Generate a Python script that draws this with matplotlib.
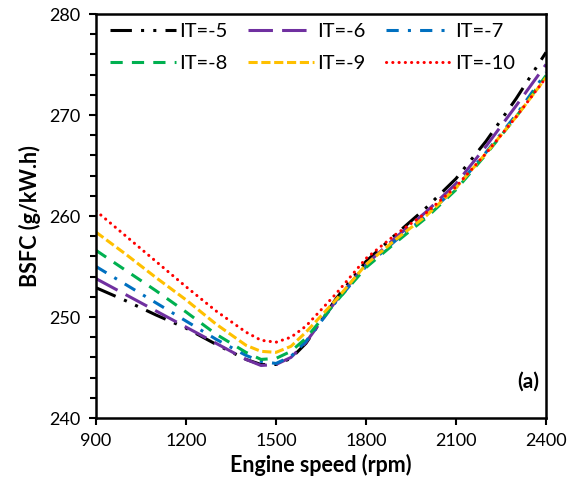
import matplotlib
matplotlib.use("Agg")
import matplotlib.pyplot as plt
from matplotlib.ticker import MultipleLocator

# ---- data ----
speed = [900, 1000, 1100, 1200, 1300, 1400, 1450, 1500, 1550, 1600, 1700, 1800, 1900, 2000, 2100, 2200, 2300, 2400]

it_m5  = [252.9, 251.6, 250.2, 248.9, 247.3, 245.8, 245.3, 245.3, 245.9, 247.4, 251.8, 255.5, 258.2, 260.8, 263.7, 267.4, 271.6, 276.2]
it_m6  = [253.8, 252.2, 250.6, 249.0, 247.4, 245.8, 245.2, 245.3, 246.0, 247.5, 251.6, 255.2, 257.9, 260.4, 263.2, 266.9, 270.9, 275.0]
it_m7  = [255.0, 253.2, 251.4, 249.6, 247.8, 246.2, 245.6, 245.4, 246.1, 247.6, 251.5, 255.0, 257.6, 260.0, 262.8, 266.3, 270.0, 274.2]
it_m8  = [256.6, 254.6, 252.6, 250.5, 248.3, 246.5, 245.8, 245.9, 246.6, 247.9, 251.5, 254.9, 257.4, 259.8, 262.6, 266.1, 269.8, 273.9]
it_m9  = [258.4, 256.2, 253.9, 251.7, 249.3, 247.2, 246.6, 246.5, 247.1, 248.5, 251.7, 255.2, 257.7, 260.0, 262.8, 266.2, 269.8, 273.7]
it_m10 = [260.5, 258.0, 255.5, 253.0, 250.6, 248.5, 247.7, 247.5, 248.0, 249.1, 252.3, 255.8, 258.2, 260.3, 262.9, 266.2, 269.8, 273.7]

labels = ["IT=-5", "IT=-6", "IT=-7", "IT=-8", "IT=-9", "IT=-10"]
colors = ["#000000", "#7030A0", "#0070C0", "#00B050", "#FFC000", "#FF0000"]

x_ticks = [900, 1200, 1500, 1800, 2100, 2400]
y_ticks = [240, 250, 260, 270, 280]

plt.rcParams['font.family'] = ['Lato', 'DejaVu Sans']

fig = plt.figure(figsize=(5.77, 4.86), dpi=100)
ax = fig.add_axes([96/577, 68/486, 450/577, 404/486])

series = [it_m5, it_m6, it_m7, it_m8, it_m9, it_m10]
styles = [
    dict(linestyle=(0, (7, 3, 1, 3, 1, 3)), dash_capstyle='butt'),
    dict(linestyle=(0, (8, 3)), dash_capstyle='butt'),
    dict(linestyle=(0, (4, 3, 1, 3)), dash_capstyle='butt'),
    dict(linestyle=(0, (4, 3)), dash_capstyle='butt'),
    dict(linestyle=(0, (3, 1.2)), dash_capstyle='butt'),
    dict(linestyle=(0, (0.05, 2)), dash_capstyle='round'),
]
handles = []
for y, lab, c, st in zip(series, labels, colors, styles):
    h, = ax.plot(speed, y, color=c, lw=2.2, label=lab, **st)
    handles.append(h)

ax.set_xlim(900, 2400)
ax.set_ylim(240, 280)
ax.set_xticks(x_ticks)
ax.set_yticks(y_ticks)
ax.yaxis.set_minor_locator(MultipleLocator(2))
ax.tick_params(axis='both', which='major', direction='out', length=5, width=1.5, labelsize=13, pad=6)
ax.tick_params(axis='y', which='minor', direction='out', length=4, width=1.5)
for s in ax.spines.values():
    s.set_linewidth(1.8)

ax.set_xlabel("Engine speed (rpm)", fontsize=15.5, fontweight='bold', labelpad=3)
ax.set_ylabel("BSFC (g/kW.h)", fontsize=15.5, fontweight='bold', labelpad=6)

ax.text(0.985, 0.09, "(a)", transform=ax.transAxes, ha='right', va='center',
        fontsize=15, fontweight='bold')

# legend filled row by row (3 columns)
order = [0, 3, 1, 4, 2, 5]
leg = ax.legend([handles[i] for i in order], [labels[i] for i in order],
                loc='upper left', bbox_to_anchor=(14/450, 1 - 9/404), ncol=3, frameon=False,
                fontsize=14.5, handlelength=3.3, handletextpad=0.15, columnspacing=1.0,
                borderpad=0, borderaxespad=0, labelspacing=0.75)

fig.savefig("out.png", dpi=100)
